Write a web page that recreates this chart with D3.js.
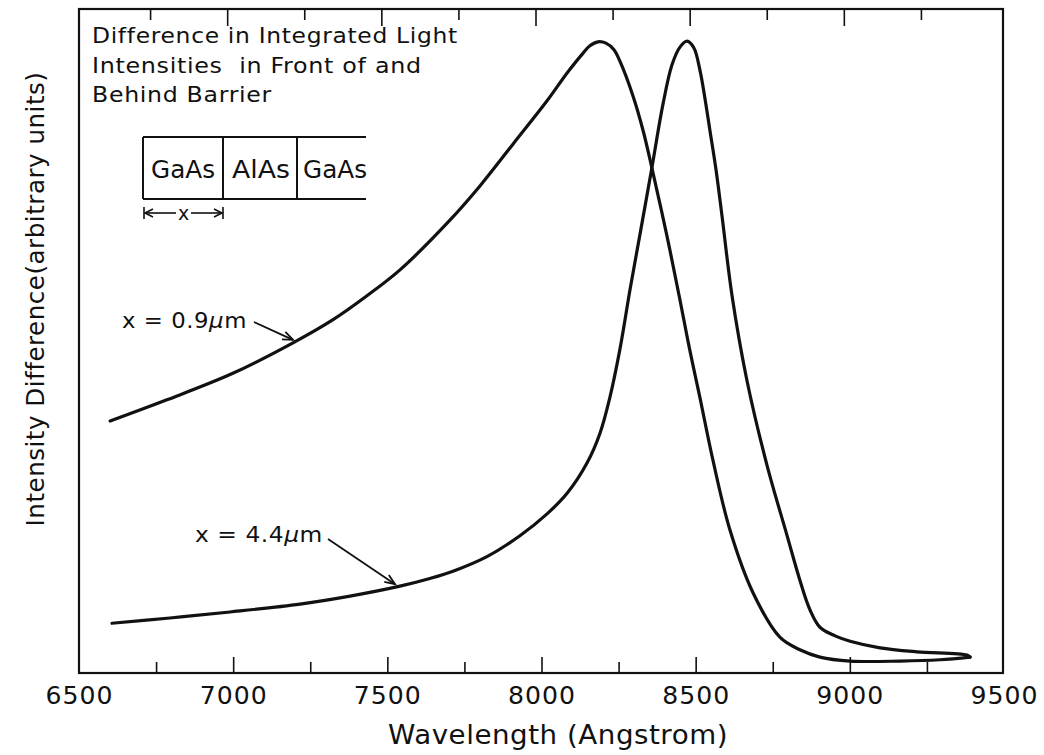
<!DOCTYPE html>
<html>
<head>
<meta charset="utf-8">
<script src="https://cdn.jsdelivr.net/npm/d3@7"></script>
<style>
  html, body { margin: 0; padding: 0; background: #fff; }
  svg { display: block; }
  text { font-family: "DejaVu Sans", sans-serif; fill: #111; }
</style>
</head>
<body>
<svg id="chart" width="1044" height="755"></svg>
<script>
// ---- data ----
const seriesNames = ["x = 0.9μm", "x = 4.4μm"];

const wavelengthA = [6601, 6785, 6999, 7194, 7324, 7434, 7541, 7703, 7801, 7908, 8018, 8083, 8135, 8157, 8183, 8209, 8235, 8255, 8297, 8329, 8358, 8407, 8449, 8481, 8514, 8556, 8611, 8686, 8773, 8838, 8903, 9001, 9163, 9292, 9390];
const valuesA     = [38.0, 41.2, 45.2, 49.8, 53.3, 56.9, 60.8, 68.3, 73.5, 79.8, 86.3, 90.5, 93.5, 94.6, 95.2, 95.0, 94.0, 92.2, 87.0, 81.9, 76.2, 65.9, 56.3, 48.7, 41.5, 32.1, 21.6, 12.1, 5.4, 3.5, 2.4, 1.8, 1.8, 2.0, 2.4];

const wavelengthB = [6607, 6795, 6990, 7217, 7379, 7541, 7638, 7713, 7823, 7930, 8018, 8083, 8148, 8190, 8222, 8255, 8287, 8323, 8358, 8394, 8423, 8449, 8472, 8494, 8514, 8530, 8546, 8566, 8585, 8618, 8666, 8731, 8796, 8838, 8871, 8903, 8952, 9001, 9098, 9218, 9380, 9390];
const valuesB     = [7.5, 8.3, 9.2, 10.4, 11.6, 13.1, 14.25, 15.35, 17.55, 20.7, 24.0, 27.1, 31.7, 36.2, 41.6, 49.0, 57.8, 67.1, 76.2, 85.8, 91.7, 94.4, 95.3, 94.3, 90.9, 86.7, 81.9, 75.9, 69.1, 56.9, 44.2, 31.4, 20.8, 14.0, 9.5, 6.9, 5.6, 4.8, 3.8, 3.2, 2.7, 2.4];

const xMajorTicks = [7000, 7500, 8000, 8500, 9000];
const xMinorTicks = [6750, 7250, 7750, 8250, 8750, 9250];
const xTickLabels = [6500, 7000, 7500, 8000, 8500, 9000, 9500];

const xTitle = "Wavelength (Angstrom)";
const yTitle = "Intensity Difference(arbitrary units)";
const noteLines = ["Difference in Integrated Light", "Intensities  in Front of and", "Behind Barrier"];
const layerNames = ["GaAs", "AlAs", "GaAs"];
// wavelengths where the label arrows touch the curves
const arrowTipWavelength = [7194, 7525];

// ---- chart ----
(function () {
const svg = d3.select("#chart");
const pL = 79, pR = 1004, pT = 10, pB = 673;
const x = d3.scaleLinear().domain([6500, 9500]).range([pL, pR]);
const y = d3.scaleLinear().domain([0, 100]).range([pB, pT]);

// widen a text horizontally (the original lettering is broad)
function stretch(sel, target, pre) {
  sel.each(function () {
    const w = this.getComputedTextLength();
    const k = target / w;
    d3.select(this).attr("transform", `${pre || ""} scale(${k},1)`);
  });
}

// frame
svg.append("rect")
  .attr("x", pL).attr("y", pT - 1)
  .attr("width", 1003 - pL).attr("height", pB - pT + 1)
  .attr("fill", "none").attr("stroke", "#111").attr("stroke-width", 2.2);

function styleTicks(g) {
  g.select(".domain").remove();
  g.selectAll(".tick line").attr("stroke", "#111").attr("stroke-width", 1.6);
  g.selectAll(".tick text").remove();
}
// bottom ticks (inward)
svg.append("g").attr("transform", `translate(0,${pB})`)
  .call(d3.axisBottom(x).tickValues(xMajorTicks).tickSize(-16).tickFormat(""))
  .call(styleTicks);
svg.append("g").attr("transform", `translate(0,${pB})`)
  .call(d3.axisBottom(x).tickValues(xMinorTicks).tickSize(-11).tickFormat(""))
  .call(styleTicks);
// top ticks (inward, slightly offset like the scanned original)
svg.append("g").attr("transform", `translate(-6,${pT - 1})`)
  .call(d3.axisTop(x).tickValues(xMajorTicks).tickSize(-17).tickFormat(""))
  .call(styleTicks);
svg.append("g").attr("transform", `translate(-6,${pT - 1})`)
  .call(d3.axisTop(x).tickValues(xMinorTicks).tickSize(-11).tickFormat(""))
  .call(styleTicks);

// tick labels
const lab = svg.append("g").attr("transform", `translate(0,${pB})`)
  .call(d3.axisBottom(x).tickValues(xTickLabels).tickSize(0).tickPadding(13).tickFormat(d3.format("d")));
lab.select(".domain").remove();
lab.selectAll("text").attr("font-size", 25).attr("font-family", "DejaVu Sans")
  .attr("fill", "#111").attr("letter-spacing", 1);
stretch(lab.selectAll("text"), 68);

// axis titles
const xt = svg.append("text").attr("x", 0).attr("y", 0)
  .attr("text-anchor", "middle").attr("font-size", 26).attr("letter-spacing", 0.5).text(xTitle);
stretch(xt, 340, "translate(558,744)");
const yt = svg.append("text").attr("x", 0).attr("y", 0)
  .attr("text-anchor", "middle").attr("font-size", 25).attr("letter-spacing", 0.5).text(yTitle);
stretch(yt, 455, "translate(44,299) rotate(-90)");

// curves
const line = d3.line().x(d => x(d[0])).y(d => y(d[1])).curve(d3.curveCatmullRom.alpha(0.5));
const dataA = wavelengthA.map((w, i) => [w, valuesA[i]]);
const dataB = wavelengthB.map((w, i) => [w, valuesB[i]]);
[dataA, dataB].forEach(d => {
  svg.append("path").datum(d).attr("d", line)
    .attr("fill", "none").attr("stroke", "#111").attr("stroke-width", 3.2)
    .attr("stroke-linejoin", "round").attr("stroke-linecap", "round");
});

// note text
const noteLen = [366, 330, 180];
noteLines.forEach((t, i) => {
  const n = svg.append("text").attr("x", 0).attr("y", 0).attr("font-size", 21)
    .attr("xml:space", "preserve").attr("letter-spacing", 0.6).text(t);
  stretch(n, noteLen[i], `translate(92,${43 + i * 29.5})`);
});

// layer box
const bx0 = 143, bx1 = 223, bx2 = 297, bxEnd = 366, by0 = 137, by1 = 199;
const box = svg.append("g").attr("stroke", "#111").attr("stroke-width", 2).attr("fill", "none");
box.append("line").attr("x1", bx0).attr("x2", bxEnd).attr("y1", by0).attr("y2", by0);
box.append("line").attr("x1", bx0).attr("x2", bxEnd).attr("y1", by1).attr("y2", by1);
[bx0, bx1, bx2].forEach(xx => box.append("line").attr("x1", xx).attr("x2", xx).attr("y1", by0).attr("y2", by1));
const centers = [183, 261, 335];
const boxLen = [64, 58, 64];
layerNames.forEach((t, i) => {
  const b = svg.append("text").attr("x", 0).attr("y", 0).attr("text-anchor", "middle")
    .attr("font-size", 24).text(t);
  stretch(b, boxLen[i], `translate(${centers[i]},178)`);
});
// dimension arrow |<--x-->|
const dy = 213;
const dim = svg.append("g").attr("stroke", "#111").attr("stroke-width", 1.6).attr("fill", "none");
dim.append("line").attr("x1", bx0 + 1).attr("x2", bx0 + 1).attr("y1", dy - 6).attr("y2", dy + 6);
dim.append("line").attr("x1", bx1).attr("x2", bx1).attr("y1", dy - 6).attr("y2", dy + 6);
dim.append("line").attr("x1", bx0 + 2).attr("x2", 176).attr("y1", dy).attr("y2", dy);
dim.append("line").attr("x1", 191).attr("x2", bx1 - 1).attr("y1", dy).attr("y2", dy);
dim.append("path").attr("d", `M${bx0 + 10},${dy - 4} L${bx0 + 2},${dy} L${bx0 + 10},${dy + 4}`);
dim.append("path").attr("d", `M${bx1 - 9},${dy - 4} L${bx1 - 1},${dy} L${bx1 - 9},${dy + 4}`);
svg.append("text").attr("x", 183.5).attr("y", dy + 7).attr("text-anchor", "middle").attr("font-size", 19).text("x");

// series labels with arrows
function valueAt(data, w) {
  for (let i = 1; i < data.length; i++) {
    if (data[i][0] >= w) {
      const t = (w - data[i - 1][0]) / (data[i][0] - data[i - 1][0]);
      return data[i - 1][1] + t * (data[i][1] - data[i - 1][1]);
    }
  }
  return data[data.length - 1][1];
}
function seriesLabel(name, tx, ty, len) {
  const parts = name.split("μ");
  const t = svg.append("text").attr("x", 0).attr("y", 0).attr("font-size", 21)
    .attr("xml:space", "preserve").attr("letter-spacing", 0.5);
  t.append("tspan").text(parts[0]);
  t.append("tspan").attr("font-style", "italic").text("μ");
  t.append("tspan").text(parts[1]);
  stretch(t, len, `translate(${tx},${ty})`);
}
seriesLabel(seriesNames[0], 122, 328, 125);
seriesLabel(seriesNames[1], 195, 542, 128);

function arrow(x1, y1, x2, y2) {
  const g = svg.append("g").attr("stroke", "#111").attr("stroke-width", 1.8).attr("fill", "none");
  g.append("line").attr("x1", x1).attr("y1", y1).attr("x2", x2).attr("y2", y2);
  const a = Math.atan2(y2 - y1, x2 - x1), L = 11, s = 0.38;
  g.append("path").attr("d",
    `M${x2 - L * Math.cos(a - s)},${y2 - L * Math.sin(a - s)} L${x2},${y2} L${x2 - L * Math.cos(a + s)},${y2 - L * Math.sin(a + s)}`);
}
{
  const w = arrowTipWavelength[0];
  arrow(254, 322, x(w), y(valueAt(dataA, w)) - 3);
}
{
  const w = arrowTipWavelength[1];
  arrow(328, 539, x(w), y(valueAt(dataB, w)) - 3);
}
})();
</script>
</body>
</html>
